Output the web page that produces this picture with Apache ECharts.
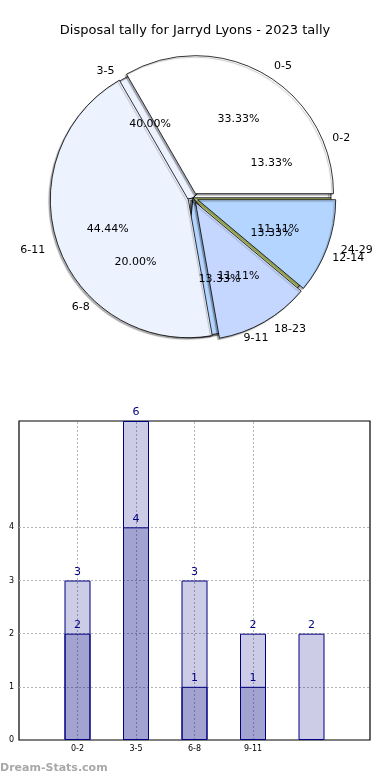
<!DOCTYPE html>
<html>
<head>
<meta charset="utf-8">
<script src="https://cdn.jsdelivr.net/npm/echarts@6/dist/echarts.min.js"></script>
<style>
html,body{margin:0;padding:0;background:#fff;}
#chart{width:390px;height:780px;}
</style>
</head>
<body>
<div id="chart"></div>
<script>
const chartTitle = 'Disposal tally for Jarryd Lyons - 2023 tally';
// Pie drawn on top (exploded)
const pieTopCats = ['0-5', '6-11', '18-23', '24-29'];
const pieTopVals = [3, 4, 1, 1];
const pieTopColors = ['#ffffff', '#edf2ff', '#c5d7ff', '#b3d5ff'];
// Pie drawn underneath
const pieBaseCats = ['0-2', '3-5', '6-8', '9-11', '12-14'];
const pieBaseVals = [2, 6, 3, 2, 2];
const pieBaseColors = ['#ffffff', '#edf2ff', '#edf2ff', '#b3d5ff', '#d2e47c'];
// Bars
const barCats = ['0-2', '3-5', '6-8', '9-11', '12-14'];
const barTickLabels = ['0-2', '3-5', '6-8', '9-11', ''];
const barTotals = [3, 6, 3, 2, 2];
const barParts = [2, 4, 1, 1, null];
const yTickLabels = [0, 1, 2, 3, 4];

const FONT = 'DejaVu Sans';
const C = [193, 198];
const R = 138;

function sum(a){return a.reduce((s,v)=>s+v,0);}
function pct(vals){const t=sum(vals);return p => (vals[p.dataIndex]/t*100).toFixed(2)+'%';}

const SHADOW_BASE = {shadowColor:'rgba(0,0,0,0.5)', shadowBlur:1, shadowOffsetX:-2, shadowOffsetY:2};
const SHADOW_TOP = {shadowColor:'rgba(0,0,0,0.3)', shadowBlur:1, shadowOffsetX:-1.5, shadowOffsetY:1.5};

function pieSeries(cats, vals, colors, offset, shadow){
  return {
    type:'pie', center:C, radius:R, startAngle:0, clockwise:false,
    selectedMode:'multiple', selectedOffset:offset, avoidLabelOverlap:false,
    labelLayout:{hideOverlap:false},
    animation:false, silent:true,
    data: cats.map((c,i)=>({name:c, value:vals[i], selected: offset>0,
      itemStyle:{color:colors[i]}})),
    itemStyle:Object.assign({borderColor:'#000', borderWidth:0.8}, shadow),
    select:{itemStyle:Object.assign({borderColor:'#000', borderWidth:0.8}, shadow)},
    label:{show:true, position:'outside', formatter:'{b}', color:'#000', fontSize:11, fontFamily:FONT},
    labelLine:{show:false, length:9, length2:0},
    emphasis:{disabled:true}
  };
}
function pctSeries(cats, vals, offset){
  return {
    type:'pie', center:C, radius:R*1.2, startAngle:0, clockwise:false,
    selectedMode:'multiple', selectedOffset:offset, avoidLabelOverlap:false,
    labelLayout:{hideOverlap:false},
    animation:false, silent:true,
    data: cats.map((c,i)=>({name:c, value:vals[i], selected: offset>0})),
    itemStyle:{color:'rgba(0,0,0,0)', borderWidth:0},
    select:{itemStyle:{color:'rgba(0,0,0,0)', borderWidth:0}},
    label:{show:true, position:'inside', formatter:pct(vals), color:'#000', fontSize:11, fontFamily:FONT},
    labelLine:{show:false},
    emphasis:{disabled:true}
  };
}

const chart = echarts.init(document.getElementById('chart'), null, {renderer:'canvas'});
chart.setOption({
  animation:false,
  backgroundColor:'#fff',
  title:{text:chartTitle, left:'center', top:19, textStyle:{fontSize:13, fontWeight:'normal', color:'#000', fontFamily:FONT}},
  graphic:[{type:'text', left:0, top:763, style:{text:'Dream-Stats.com', fill:'#a8a8a8', font:'bold 11px "DejaVu Sans"'}}],
  grid:{left:19, right:20, top:421, bottom:40, show:true, borderColor:'#000', borderWidth:1.2, backgroundColor:'rgba(0,0,0,0)'},
  xAxis:{type:'value', min:0, max:6, interval:1,
    axisLine:{show:false}, axisTick:{show:false}, splitLine:{show:false},
    axisLabel:{fontSize:8, color:'#000', fontFamily:FONT, margin:5,
      formatter:v => (v>=1 && v<=barTickLabels.length) ? barTickLabels[v-1] : ''}},
  yAxis:{type:'value', min:0, max:6, interval:1,
    axisLine:{show:false}, axisTick:{show:false}, splitLine:{show:false},
    axisLabel:{fontSize:8, color:'#000', fontFamily:FONT, margin:5,
      formatter:v => yTickLabels.includes(v) ? String(v) : ''}},
  series:[
    pieSeries(pieBaseCats, pieBaseVals, pieBaseColors, 0, SHADOW_BASE),
    pieSeries(pieTopCats, pieTopVals, pieTopColors, 5, SHADOW_TOP),
    pctSeries(pieBaseCats, pieBaseVals, 0),
    pctSeries(pieTopCats, pieTopVals, 5),
    {type:'bar', name:'total', barWidth:26, barGap:'-100%', silent:true, z:3,
     data: barTotals.map((v,i)=>[i+1, v]),
     itemStyle:{color:'rgba(0,0,128,0.2)', borderColor:'#000080', borderWidth:1},
     label:{show:true, position:'top', distance:3, color:'#000080', fontSize:11, fontFamily:FONT},
     markLine:{silent:true, z:1, symbol:'none', animation:false, label:{show:false},
       lineStyle:{type:[2,2], color:'#b4b4b4', width:1},
       data: yTickLabels.filter(v=>v>0).map(v=>({yAxis:v}))
         .concat(barTickLabels.map((l,i)=> l ? {xAxis:i+1} : null).filter(Boolean))}},
    {type:'bar', name:'part', barWidth:26, barGap:'-100%', silent:true, z:4,
     data: barParts.map((v,i)=> v==null ? [i+1, '-'] : [i+1, v]),
     itemStyle:{color:'rgba(0,0,128,0.2)', borderColor:'#000080', borderWidth:1},
     label:{show:true, position:'top', distance:3, color:'#000080', fontSize:11, fontFamily:FONT}}
  ]
});
</script>
</body>
</html>
